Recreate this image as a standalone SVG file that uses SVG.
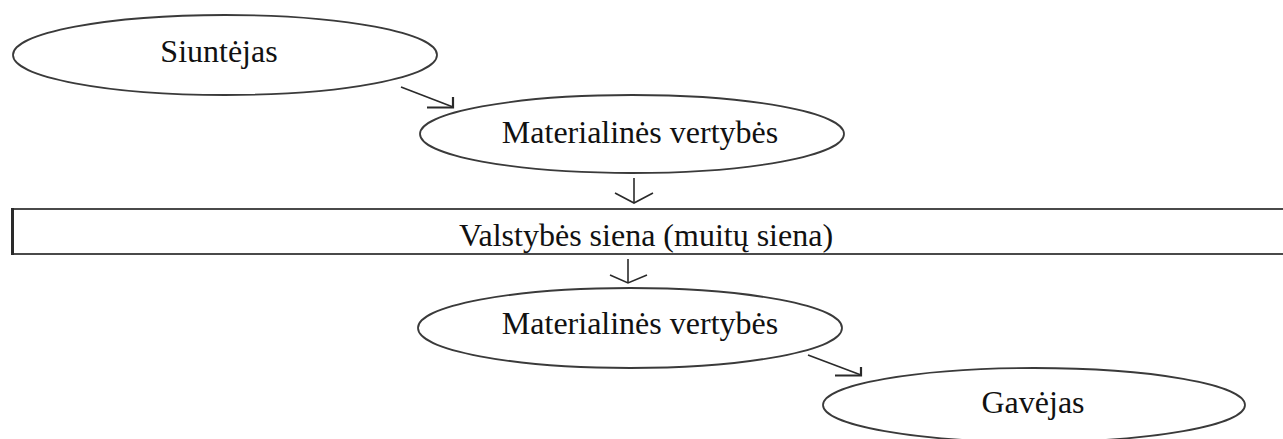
<svg xmlns="http://www.w3.org/2000/svg" width="1283" height="439" viewBox="0 0 1283 439">
  <style>
    .node ellipse { fill: #ffffff; stroke: #3a3a3a; stroke-width: 1.8; }
    .box { fill: #ffffff; stroke: #4a4a4a; stroke-width: 2; }
    .lbl { font-family: "Liberation Serif", "Times New Roman", serif; font-size: 32px; fill: #111111; text-anchor: middle; }
    .conn line, .conn polyline { stroke: #2a2a2a; stroke-width: 1.6; fill: none; }
    .conn .barb { stroke-width: 2.2; }
  </style>
  <rect width="1283" height="439" fill="#ffffff"/>

  <g id="connectors" class="conn">
    <!-- Siuntejas -> Materialines vertybes -->
    <line x1="401" y1="87" x2="453" y2="107"/>
    <polyline class="barb" points="427,107.5 453,107.5 453,97"/>
    <!-- Materialines vertybes -> Valstybes siena -->
    <line x1="634" y1="178" x2="634" y2="203"/>
    <polyline points="615,193 634,203 653,193"/>
    <!-- Valstybes siena -> Materialines vertybes -->
    <line x1="628" y1="259" x2="628" y2="283"/>
    <polyline points="610,275 628,283 647,275"/>
    <!-- Materialines vertybes -> Gavejas -->
    <line x1="808" y1="355" x2="861" y2="375"/>
    <polyline class="barb" points="835,375.5 861,375.5 861,367"/>
  </g>

  <g id="node-siuntejas" class="node">
    <ellipse cx="225" cy="55" rx="212" ry="40"/>
    <text class="lbl" x="219" y="62">Siuntėjas</text>
  </g>

  <g id="node-materialines-1" class="node">
    <ellipse cx="632" cy="134" rx="212" ry="39"/>
    <text class="lbl" x="640" y="143">Materialinės vertybės</text>
  </g>

  <g id="node-siena">
    <rect class="box" x="12" y="209" width="1290" height="45"/>
    <line x1="12.5" y1="208" x2="12.5" y2="255" stroke="#2a2a2a" stroke-width="3"/>
    <text class="lbl" x="646" y="246">Valstybės siena (muitų siena)</text>
  </g>

  <g id="node-materialines-2" class="node">
    <ellipse cx="630" cy="328" rx="212" ry="40"/>
    <text class="lbl" x="640" y="334">Materialinės vertybės</text>
  </g>

  <g id="node-gavejas" class="node">
    <ellipse cx="1034" cy="405" rx="211" ry="37"/>
    <text class="lbl" x="1033" y="413">Gavėjas</text>
  </g>
</svg>
